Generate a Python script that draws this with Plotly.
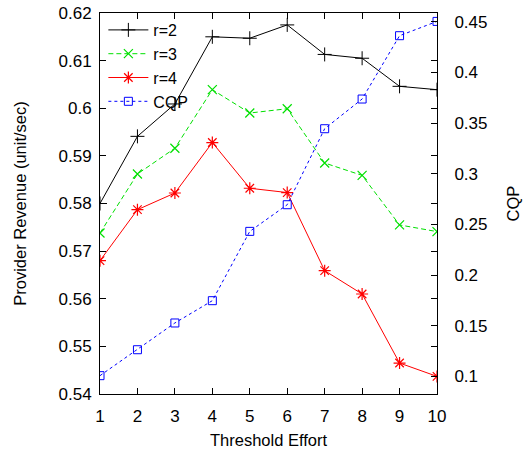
import plotly.graph_objects as go

# ---- data ----
threshold = [1, 2, 3, 4, 5, 6, 7, 8, 9, 10]
rev_r2 = [0.5800, 0.5941, 0.6009, 0.6150, 0.6147, 0.6175, 0.6113, 0.6105, 0.6046, 0.6039]
rev_r3 = [0.5738, 0.5862, 0.5916, 0.6039, 0.5990, 0.5999, 0.5885, 0.5859, 0.5755, 0.5741]
rev_r4 = [0.5680, 0.5787, 0.5822, 0.5928, 0.5832, 0.5823, 0.5659, 0.5610, 0.5465, 0.5437]
cqp = [0.1007, 0.1263, 0.1527, 0.1747, 0.2431, 0.2694, 0.3444, 0.3737, 0.4362, 0.4503]

x_ticks = [1, 2, 3, 4, 5, 6, 7, 8, 9, 10]
y1_ticks = [0.54, 0.55, 0.56, 0.57, 0.58, 0.59, 0.60, 0.61, 0.62]
y1_labels = ["0.54", "0.55", "0.56", "0.57", "0.58", "0.59", "0.6", "0.61", "0.62"]
y2_ticks = [0.10, 0.15, 0.20, 0.25, 0.30, 0.35, 0.40, 0.45]
y2_labels = ["0.1", "0.15", "0.2", "0.25", "0.3", "0.35", "0.4", "0.45"]

FONT = "Liberation Sans, Arial, Helvetica, sans-serif"
TICK_SIZE = 17
TITLE_SIZE = 16.5

fig = go.Figure()
fig.add_trace(go.Scatter(
    x=threshold, y=rev_r2, name="r=2", mode="lines+markers",
    line=dict(color="black", width=1),
    marker=dict(symbol="cross-thin", size=10, line=dict(color="black", width=1))))
fig.add_trace(go.Scatter(
    x=threshold, y=rev_r3, name="r=3", mode="lines+markers",
    line=dict(color="#00e000", width=1, dash="5px,3px"),
    marker=dict(symbol="x-thin", size=9, line=dict(color="#00e000", width=1.2))))
fig.add_trace(go.Scatter(
    x=threshold, y=rev_r4, name="r=4", mode="lines+markers",
    line=dict(color="#ff0000", width=1),
    marker=dict(symbol="asterisk", size=10, line=dict(color="#ff0000", width=1.2))))
fig.add_trace(go.Scatter(
    x=threshold, y=cqp, name="CQP", mode="lines+markers", yaxis="y2",
    line=dict(color="#0000ff", width=1, dash="dot"),
    marker=dict(symbol="square-open", size=8, color="#0000ff", line=dict(color="#0000ff", width=1))))

axis_common = dict(
    showline=True, linecolor="black", linewidth=1, ticks="inside", ticklen=6,
    tickcolor="black", tickwidth=1, showgrid=False, zeroline=False, automargin=False,
    tickfont=dict(family=FONT, size=TICK_SIZE, color="black"),
)

fig.update_layout(
    width=530, height=450,
    margin=dict(l=100, r=93, t=13, b=56, autoexpand=False),
    paper_bgcolor="white", plot_bgcolor="white",
    font=dict(family=FONT, size=16, color="black"),
    xaxis=dict(range=[1, 10], tickvals=x_ticks, mirror="ticks",
               title=dict(text="Threshold Effort", font=dict(family=FONT, size=TITLE_SIZE), standoff=9),
               ticklabelstandoff=7, **axis_common),
    yaxis=dict(range=[0.54, 0.62], tickvals=y1_ticks, ticktext=y1_labels, mirror="ticks",
               title=dict(text="Provider Revenue (unit/sec)", font=dict(family=FONT, size=TITLE_SIZE), standoff=27),
               ticklabelstandoff=4, **axis_common),
    yaxis2=dict(range=[0.0826, 0.4586], tickvals=y2_ticks, ticktext=y2_labels,
                overlaying="y", side="right",
                title=dict(text="CQP", font=dict(family=FONT, size=TITLE_SIZE), standoff=20),
                ticklabelstandoff=13, **axis_common),
    legend=dict(x=0.01, y=1.0, xanchor="left", yanchor="top",
                bgcolor="rgba(0,0,0,0)", font=dict(family=FONT, size=16),
                itemwidth=40, tracegroupgap=0),
    showlegend=True,
)

fig.write_html("out.html")
